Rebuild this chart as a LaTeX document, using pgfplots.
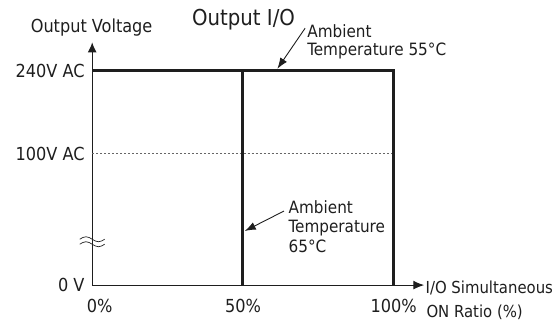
\documentclass[border=0pt]{standalone}
\usepackage{fontspec}
\setmainfont{DejaVu Sans Condensed}
\usepackage{pgfplots}
\pgfplotsset{compat=1.18}
\usetikzlibrary{arrows.meta}
\definecolor{ink}{HTML}{1E1E1E}
\begin{document}
\begin{tikzpicture}
\begin{axis}[
  x=3.025pt, y=1pt,
  xmin=0, xmax=110.1, ymin=0, ymax=244.3,
  axis lines=left,
  axis line style={draw=none},
  major tick length=0pt,
  xtick={50,100}, xticklabels={50\%,100\%},
  extra x ticks={0}, extra x tick labels={0\%},
  extra x tick style={xticklabel style={xshift=7.5pt}},
  ytick={0,132,215}, yticklabels={0 V,100V AC,240V AC},
  tick label style={font=\fontsize{18}{21}\selectfont, text=ink, inner sep=0pt},
  xticklabel style={anchor=base, yshift=-27.3pt},
  yticklabel style={anchor=east, xshift=-7.5pt},
  clip=false,
]
% bounding box of the whole image
\path (axis cs:-30.58,-36) rectangle (axis cs:152.2,286);

% both axes as one path with arrow heads at both ends
\addplot[line width=1.1pt, color=ink, line join=miter, {Latex[length=10pt,width=9pt]}-{Latex[length=11pt,width=9pt]}] coordinates {(0,243.5) (0,0) (110.1,0)};

\addplot[line width=0.9pt, color=black!60, dash pattern=on 2pt off 2pt] coordinates {(0,132) (100,132)};
\addplot[line width=3pt, color=ink, line join=miter] coordinates {(0,215) (100,215) (100,0)};
\addplot[line width=3pt, color=ink] coordinates {(50,0) (50,215)};

% axis break squiggle
\draw[line width=0.7pt, color=ink] ([shift={(-12.5pt,2pt)}]axis cs:0,44) sin ++(6.25pt,2.5pt) cos ++(6.25pt,-2.5pt) sin ++(6.25pt,-2.5pt) cos ++(6.25pt,2.5pt);
\draw[line width=0.7pt, color=ink] ([shift={(-12.5pt,-3pt)}]axis cs:0,44) sin ++(6.25pt,2.5pt) cos ++(6.25pt,-2.5pt) sin ++(6.25pt,-2.5pt) cos ++(6.25pt,2.5pt);

% labels
\node[anchor=base, inner sep=0pt, text=ink, font=\fontsize{18}{21}\selectfont] at (axis cs:-0.2,253) {Output Voltage};
\node[anchor=base, inner sep=0pt, text=ink, font=\fontsize{22}{26}\selectfont] at (axis cs:50.2,260.4) {Output I/O};
\node[anchor=base west, inner sep=0pt, text=ink, font=\fontsize{16.6}{20}\selectfont] at (axis cs:110.5,-8.6) {I/O Simultaneous};
\node[anchor=base west, inner sep=0pt, text=ink, font=\fontsize{16.6}{20}\selectfont] at (axis cs:110.8,-32) {ON Ratio (\%)};

% annotation 55
\node[anchor=base west, inner sep=0pt, text=ink, font=\fontsize{17}{20}\selectfont] at (axis cs:71.3,248) {Ambient};
\node[anchor=base west, inner sep=0pt, text=ink, font=\fontsize{17}{20}\selectfont] at (axis cs:71.3,230.4) {Temperature 55°C};
\draw[line width=0.9pt, color=ink, -{Latex[length=11pt,width=8pt]}] (axis cs:70.6,257.7) -- (axis cs:61.4,217);

% annotation 65
\node[anchor=base west, inner sep=0pt, text=ink, font=\fontsize{17}{20}\selectfont] at (axis cs:65.1,71.4) {Ambient};
\node[anchor=base west, inner sep=0pt, text=ink, font=\fontsize{17}{20}\selectfont] at (axis cs:65.1,52.4) {Temperature};
\node[anchor=base west, inner sep=0pt, text=ink, font=\fontsize{17}{20}\selectfont] at (axis cs:65.1,33) {65°C};
\draw[line width=0.9pt, color=ink, -{Latex[length=11pt,width=8pt]}] (axis cs:63.6,74.3) -- (axis cs:50.6,54.3);
\end{axis}
\end{tikzpicture}
\end{document}
